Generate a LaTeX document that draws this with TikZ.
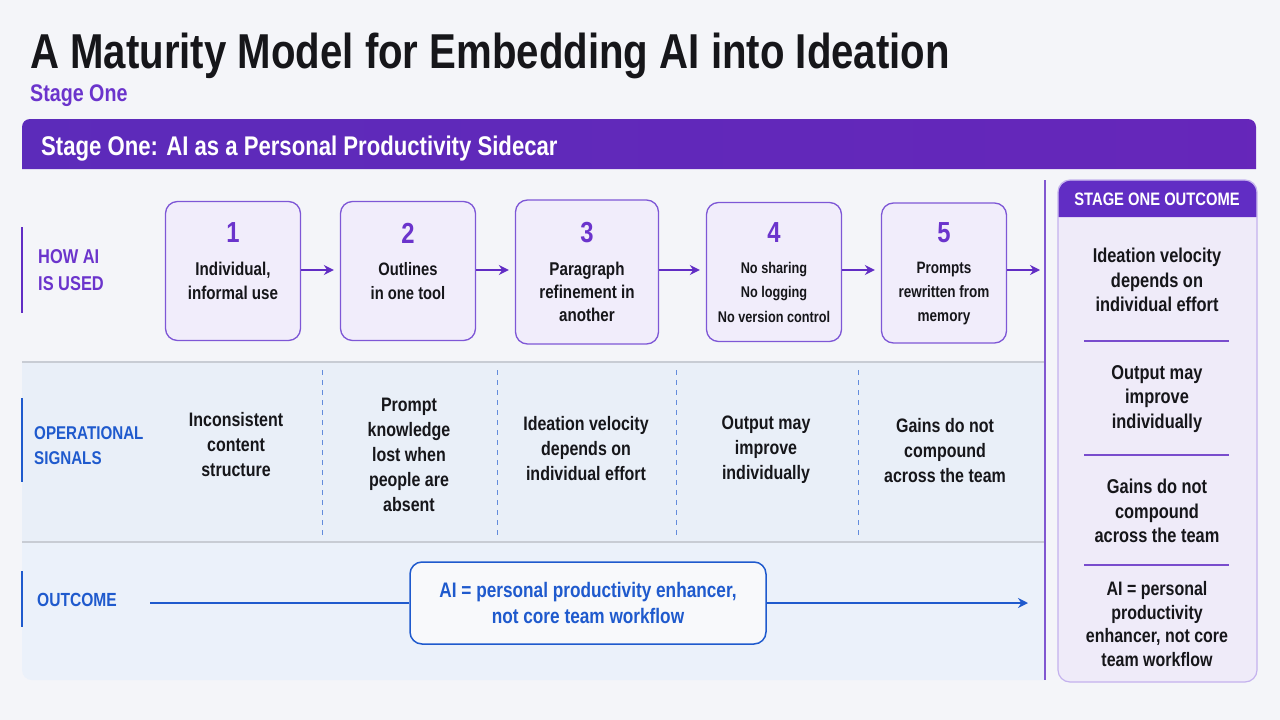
\documentclass[tikz,border=0pt]{standalone}
\usepackage{fontspec}
\setmainfont{Liberation Sans}[FakeStretch=0.82]
\usetikzlibrary{arrows.meta,positioning}
\definecolor{pagebg}{RGB}{244,245,249}
\definecolor{purp}{RGB}{97,45,196}
\definecolor{purptxt}{RGB}{107,52,204}
\definecolor{boxfill}{RGB}{241,237,251}
\definecolor{boxline}{RGB}{126,87,214}
\definecolor{sigbg}{RGB}{233,239,248}
\definecolor{outbg}{RGB}{235,241,250}
\definecolor{blu}{RGB}{31,90,205}
\definecolor{rulegrey}{RGB}{200,204,212}
\definecolor{ink}{RGB}{22,22,26}
\definecolor{panelfill}{RGB}{239,235,249}
\definecolor{panelline}{RGB}{196,178,238}

\begin{document}
\begin{tikzpicture}[x=1pt,y=-1pt,>={Stealth[length=10pt,width=10pt]}]
\tikzset{stepbox/.style={draw=boxline,fill=boxfill,line width=1.3pt,rounded corners=12pt,
    minimum width=135pt,minimum height=139pt,inner sep=0pt},
  stepnum/.style={text=purptxt,inner sep=0pt,font=\bfseries\fontsize{29}{30}\selectfont},
  steptxt/.style={text=ink,align=center,inner sep=0pt,anchor=north},
  flow/.style={->,draw=purp,line width=2.4pt,shorten >=6pt},
  sigtxt/.style={text=ink,align=center,inner sep=0pt,font=\bfseries\fontsize{19.5}{25}\selectfont},
  sigdash/.style={draw=blu!70,line width=1pt,dashed,dash pattern=on 5pt off 5pt},
  rowlabel/.style={anchor=west,align=left,inner sep=0pt,font=\bfseries\fontsize{19}{27}\selectfont},
  outtxt/.style={text=ink,align=center,inner sep=0pt,font=\bfseries\fontsize{20}{24.5}\selectfont},
  outrule/.style={draw=purp!85,line width=1.3pt}}
% name, x, y, width, height, number, font size, text
\newcommand\stp[8]{\node[stepbox,minimum width=#4pt,minimum height=#5pt] (#1) at (#2,#3) {};
  \node[stepnum] (#1n) at (#2,233) {#6};
  \node[steptxt,font=\bfseries#7\selectfont] (#1t) at (#2,262) {#8};}
\newcommand\sig[4]{\node[sigtxt] (#1) at (#2,#3) {#4};}
% ---------- page, title, banner ----------
\fill[pagebg] (0,0) rectangle (1280,720);
\useasboundingbox (0,0) rectangle (1280,720);
\node[anchor=base west,inner sep=0pt,text=ink,font=\bfseries\fontsize{49}{50}\selectfont] (title) at (30,68) {A Maturity Model for Embedding AI into Ideation};
\node[anchor=base west,inner sep=0pt,text=purptxt,font=\bfseries\fontsize{24}{26}\selectfont] (sub) at (30,101) {Stage One};
\shade[left color=purp!95!black,right color=purp!85!violet] (22,169) [rounded corners=8pt] -- (22,119) -- (1256,119) [sharp corners] -- (1256,169) -- cycle;
\node[anchor=base west,inner sep=0pt,text=white,font=\bfseries\fontsize{27}{28}\selectfont] (banner) at (41,155) {Stage One: AI as a Personal Productivity Sidecar};
% ---------- row backgrounds ----------
\fill[sigbg] (22,362) rectangle (1045,542);
\fill[outbg] (1045,542) -- (22,542) [rounded corners=10pt] -- (22,680) [sharp corners] -- (1045,680) -- cycle;
\draw[rulegrey,line width=1.3pt] (22,362) -- (1045,362);
\draw[rulegrey,line width=1.3pt] (22,542) -- (1045,542);
\draw[purp!80,line width=1.3pt] (1045,180) -- (1045,680);
% ---------- row labels ----------
\draw[purp,line width=2.2pt] (22,227) -- (22,313);
\node[rowlabel,text=purptxt,font=\bfseries\fontsize{20}{27}\selectfont] (lhow) at (38,270) {HOW AI\\IS USED};
\draw[blu,line width=2.2pt] (22,398) -- (22,482);
\node[rowlabel,text=blu,font=\bfseries\fontsize{18.5}{25}\selectfont] (lsig) at (34,446) {OPERATIONAL\\SIGNALS};
\draw[blu,line width=1.8pt] (22,571) -- (22,627);
\node[rowlabel,text=blu] (lout) at (37,600) {OUTCOME};
% ---------- how AI is used ----------
\stp{b1}{233}{271}{135}{139}{1}{\fontsize{18.5}{24}}{Individual,\\informal use}
\stp{b2}{408}{271}{135}{139}{2}{\fontsize{18}{24}}{Outlines\\in one tool}
\stp{b3}{587}{272}{143}{144}{3}{\fontsize{18.5}{23}}{Paragraph\\refinement in\\another}
\stp{b4}{774}{272}{135}{139}{4}{\fontsize{15.5}{24.5}}{No sharing\\No logging\\No version control}
\stp{b5}{944}{273}{125}{140}{5}{\fontsize{16.5}{24}}{Prompts\\rewritten from\\memory}
\coordinate (b6) at (1046,270);
\draw[flow] (b1.east |- 0,270) -- (b2.west |- 0,270);
\draw[flow] (b2.east |- 0,270) -- (b3.west |- 0,270);
\draw[flow] (b3.east |- 0,270) -- (b4.west |- 0,270);
\draw[flow] (b4.east |- 0,270) -- (b5.west |- 0,270);
\draw[flow] (b5.east |- 0,270) -- (b6);
% ---------- operational signals ----------
\sig{s1}{236}{445}{Inconsistent\\content\\structure}
\sig{s2}{409}{455}{Prompt\\knowledge\\lost when\\people are\\absent}
\sig{s3}{586}{449}{Ideation velocity\\depends on\\individual effort}
\sig{s4}{766}{450}{Output may\\improve\\individually}
\sig{s5}{945}{451}{Gains do not\\compound\\across the team}
\foreach \xd in {322,497,676,858}
  \draw[sigdash] (\xd,370) -- (\xd,535);
% ---------- outcome ----------
\coordinate (oL) at (150,603);
\coordinate (oR) at (1028,603);
\node[draw=blu,fill=pagebg!60!white,line width=1.5pt,rounded corners=12pt,minimum width=356pt,minimum height=82pt,
  align=center,text=blu,font=\bfseries\fontsize{21}{26}\selectfont] (obox) at (588,603) {AI = personal productivity enhancer,\\not core team workflow};
\draw[blu,line width=2pt] (oL) -- (obox);
\draw[blu,line width=2pt,->] (obox) -- (oR);
% ---------- stage one outcome panel ----------
\node[draw=panelline,fill=panelfill,line width=1.2pt,rounded corners=12pt,minimum width=199pt,minimum height=502pt] (pan) at (1157.5,431) {};
\fill[purp] (1058.6,217) [rounded corners=12pt] -- (1058.6,180.6) -- (1256.4,180.6) [sharp corners] -- (1256.4,217) -- cycle;
\node[text=white,inner sep=0pt,font=\bfseries\fontsize{18}{20}\selectfont] (panh) at (1157,199) {STAGE ONE OUTCOME};
\node[outtxt] (p1) at (1157,280) {Ideation velocity\\depends on\\individual effort};
\node[outtxt] (p2) at (1157,399) {Output may\\improve\\individually};
\node[outtxt] (p3) at (1157,511) {Gains do not\\compound\\across the team};
\node[outtxt,font=\bfseries\fontsize{19.5}{23.5}\selectfont] (p4) at (1157,624) {AI = personal\\productivity\\enhancer, not core\\team workflow};
\draw[outrule] (1084,341) -- (1229,341);
\draw[outrule] (1084,455) -- (1229,455);
\draw[outrule] (1084,565) -- (1229,565);
\end{tikzpicture}
\end{document}
